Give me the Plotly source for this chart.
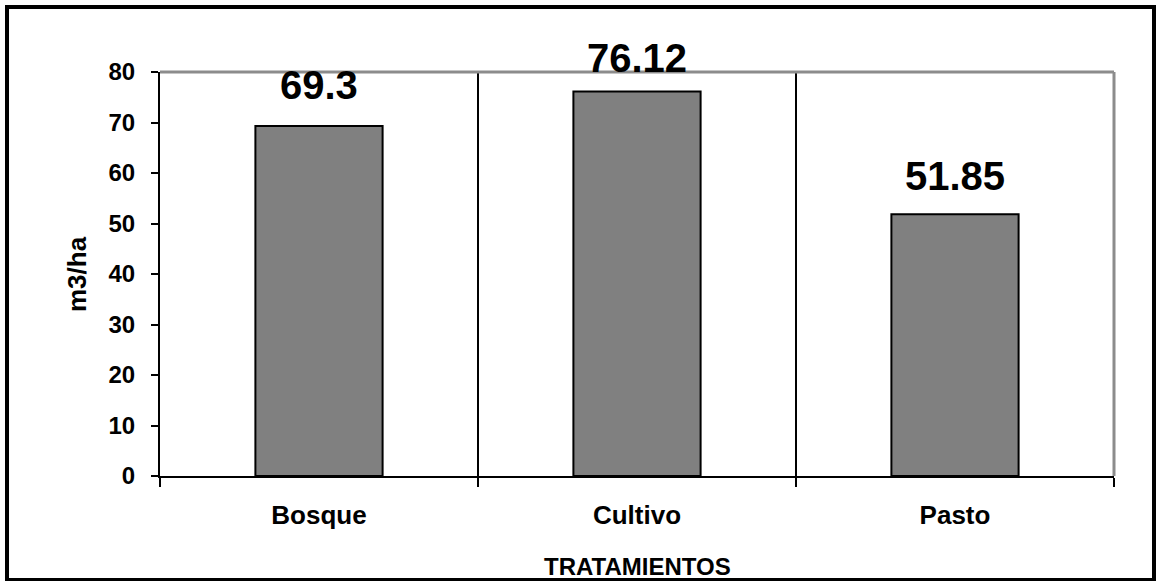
import plotly.graph_objects as go

# Volumen por tratamiento
tratamientos = ["Bosque", "Cultivo", "Pasto"]
volumen = [69.3, 76.12, 51.85]
y_ticks = [0, 10, 20, 30, 40, 50, 60, 70, 80]

# distancia (px) entre el borde superior de cada barra y su etiqueta
label_lift = [41, 34, 38]

FONT = "Liberation Sans, Arial, sans-serif"
W, H = 1159, 581
L, R, T, B = 160, 45, 72, 105
plot_w = W - L - R
plot_h = H - T - B


def px_x(px):
    return (px - L) / plot_w


def px_y(py):
    return (H - B - py) / plot_h


fig = go.Figure()
fig.add_trace(go.Bar(
    x=tratamientos,
    y=volumen,
    marker=dict(color="#808080", line=dict(color="black", width=2)),
    hoverinfo="x+y",
))

annotations = []
for cat, val, lift in zip(tratamientos, volumen, label_lift):
    annotations.append(dict(
        x=cat, y=val, xref="x", yref="y",
        text=f"{val:g}", showarrow=False,
        yanchor="middle", xanchor="center", yshift=lift,
        font=dict(family=FONT, size=40, color="black", weight="bold"),
    ))

# títulos de ejes
annotations.append(dict(
    x=0.5, y=px_y(566), xref="paper", yref="paper",
    text="TRATAMIENTOS", showarrow=False,
    xanchor="center", yanchor="middle",
    font=dict(family=FONT, size=24, color="black", weight="bold"),
))
annotations.append(dict(
    x=px_x(77), y=0.5, xref="paper", yref="paper",
    text="m3/ha", showarrow=False, textangle=-90,
    xanchor="center", yanchor="middle",
    font=dict(family=FONT, size=26, color="black", weight="bold"),
))

shapes = [
    # borde gris superior y derecho del área de trazado
    dict(type="line", xref="paper", yref="paper", x0=0, x1=1, y0=1, y1=1,
         line=dict(color="#8c8c8c", width=3), layer="above"),
    dict(type="line", xref="paper", yref="paper", x0=1, x1=1, y0=0, y1=1,
         line=dict(color="#8c8c8c", width=3), layer="above"),
    # marco exterior del gráfico
    dict(type="rect", xref="paper", yref="paper",
         x0=px_x(7), x1=px_x(1154), y0=px_y(7), y1=px_y(580),
         line=dict(color="black", width=4), fillcolor="rgba(0,0,0,0)",
         layer="above"),
]

fig.update_layout(
    width=W, height=H,
    margin=dict(l=L, r=R, t=T, b=B, pad=0),
    paper_bgcolor="white", plot_bgcolor="white",
    bargap=0.6,
    showlegend=False,
    annotations=annotations,
    shapes=shapes,
    font=dict(family=FONT, color="black"),
)

fig.update_xaxes(
    type="category",
    tickson="boundaries",
    showgrid=True, gridcolor="black", gridwidth=2,
    showline=True, linecolor="black", linewidth=2,
    ticks="outside", ticklen=9, tickwidth=2, tickcolor="black",
    tickfont=dict(family=FONT, size=26, color="black", weight="bold"),
    ticklabelstandoff=15,
    range=[-0.5, 2.5],
)
fig.update_yaxes(
    range=[0, 80],
    tickvals=y_ticks,
    showgrid=False, zeroline=False,
    showline=True, linecolor="black", linewidth=2,
    ticks="outside", ticklen=7, tickwidth=2, tickcolor="black",
    tickfont=dict(family=FONT, size=24, color="black", weight="bold"),
    ticklabelstandoff=11,
)

fig.write_html("out.html")
